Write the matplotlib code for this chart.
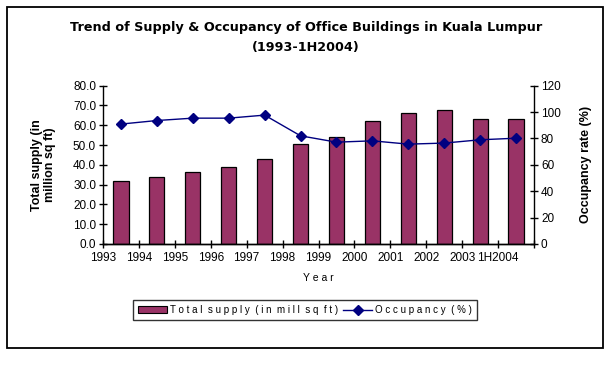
import numpy as np
import matplotlib
matplotlib.use("Agg")
import matplotlib.pyplot as plt
import matplotlib.patches as mpatches
import matplotlib.transforms as mtransforms
from matplotlib.lines import Line2D

plt.rcParams['font.family'] = ['Liberation Sans', 'DejaVu Sans']

# data
years = ["1993", "1994", "1995", "1996", "1997", "1998", "1999",
         "2000", "2001", "2002", "2003", "1H2004"]
supply = [32.0, 33.8, 36.4, 38.7, 42.8, 50.5, 53.9, 62.0, 66.0, 67.5, 63.0, 63.0]
occupancy = [90.9, 93.6, 95.4, 95.4, 97.7, 82.0, 77.2, 78.2, 75.7, 76.5, 79.0, 80.2]

BAR_COLOR = "#993366"
LINE_COLOR = "#000080"

fig = plt.figure(figsize=(6.12, 3.84), dpi=100)

# outer chart border
fig.patches.append(mpatches.Rectangle((7 / 612, 1 - 348 / 384), 596 / 612, 341 / 384,
                                      transform=fig.transFigure, fill=False,
                                      edgecolor="black", linewidth=1.3))

ax1 = fig.add_axes([103 / 612, 1 - 244 / 384, 431 / 612, 158.3 / 384])
ax2 = ax1.twinx()

x = np.arange(len(years))
ax1.bar(x, supply, width=0.42, color=BAR_COLOR, edgecolor="black", linewidth=0.9, zorder=2)
ax2.plot(x, occupancy, color=LINE_COLOR, linewidth=1.0, marker="D", markersize=5,
         markerfacecolor=LINE_COLOR, markeredgecolor=LINE_COLOR, zorder=3)

ax1.set_xlim(-0.5, len(years) - 0.5)
ax1.set_ylim(0, 80)
ax2.set_ylim(0, 120)
ax1.set_yticks(np.arange(0, 81, 10))
ax1.set_yticklabels(["%.1f" % v for v in np.arange(0, 81, 10)])
ax2.set_yticks(np.arange(0, 121, 20))

# tick marks on category boundaries, labels shifted slightly to the right
ax1.set_xticks(np.arange(len(years) + 1) - 0.5)
ax1.set_xticklabels(years + [""])
offset = mtransforms.ScaledTranslation(7 / 100, 0, fig.dpi_scale_trans)
for lab in ax1.get_xticklabels():
    lab.set_transform(lab.get_transform() + offset)

for ax in (ax1, ax2):
    ax.spines["top"].set_visible(False)
    for s in ("left", "right", "bottom"):
        ax.spines[s].set_linewidth(1.0)
    ax.tick_params(direction="inout", length=6, width=1.0, labelsize=8.5, pad=2)
ax1.tick_params(axis="x", pad=3)
ax2.spines["left"].set_visible(False)
ax1.spines["right"].set_visible(False)

ax1.set_xlabel("Y e a r", fontsize=7.5, labelpad=6)
ax1.set_ylabel("Total supply (in\nmillion sq ft)", fontsize=9, fontweight="bold",
               labelpad=12, linespacing=1.1)
ax2.set_ylabel("Occupancy rate (%)", fontsize=9, fontweight="bold", labelpad=14)

title_font = ['DejaVu Sans']
fig.text(0.5, 1 - 27 / 384, "Trend of Supply & Occupancy of Office Buildings in Kuala Lumpur",
         ha="center", va="center", fontsize=9.2, fontweight="bold", family=title_font)
fig.text(0.5, 1 - 47 / 384, "(1993-1H2004)", ha="center", va="center",
         fontsize=9.2, fontweight="bold", family=title_font)

handles = [mpatches.Patch(facecolor=BAR_COLOR, edgecolor="black", linewidth=0.8),
           Line2D([0], [0], color=LINE_COLOR, linewidth=1.0, marker="D", markersize=5,
                  markerfacecolor=LINE_COLOR)]
leg = fig.legend(handles, ["T o t a l  s u p p l y  ( i n  m i l l  s q  f t )",
                           "O c c u p a n c y  ( % )"],
                 loc="center", bbox_to_anchor=(305 / 612, 1 - 310 / 384), ncol=2,
                 fontsize=7, frameon=True, fancybox=False, handlelength=3,
                 handletextpad=0.3, columnspacing=0.5, borderpad=0.5)
leg.get_frame().set_edgecolor("black")
leg.get_frame().set_linewidth(1.0)

fig.savefig("out.png", dpi=100)
